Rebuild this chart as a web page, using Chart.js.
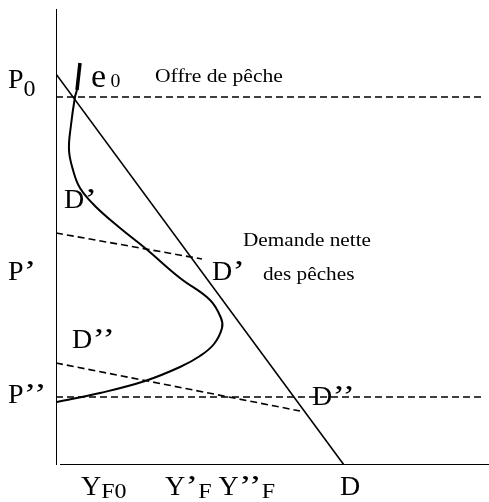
<!DOCTYPE html>
<html>
<head>
<meta charset="utf-8">
<script src="https://cdn.jsdelivr.net/npm/chart.js@4"></script>
<style>
  html, body { margin: 0; padding: 0; background: #fff; }
  canvas { display: block; }
</style>
</head>
<body>
<canvas id="chart" width="489" height="502"></canvas>
<script>
// data units: x = quantity, y = price (origin at the axes corner)
const axisVertical   = [{ x: 0, y: 456 }, { x: 0, y: 0 }]
const axisHorizontal = [{ x: 4, y: 0 }, { x: 433, y: 0 }]

// demande nette des pêches (straight line P0 -> D)
const demandLine = [{ x: 0, y: 391 }, { x: 288, y: 0 }]

// offre de pêche (backward-bending curve)
const supplyTopX = [24, 21]
const supplyTopY = [402, 375]
const supplyX = [21, 19, 15, 13, 17, 24, 39, 64, 89, 124, 154, 165, 166, 158, 144, 124, 89, 44, 1]
const supplyY = [375, 368, 340, 315, 295, 277, 259, 237, 217, 187, 165, 147, 137, 121, 109, 98, 84, 72, 63]

// dashed guides
const priceP0     = [{ x: 0, y: 368 }, { x: 429, y: 368 }]
const tiltedP1    = [{ x: 0, y: 232 }, { x: 146, y: 206 }]
const tiltedP2    = [{ x: 0, y: 102 }, { x: 244, y: 54 }]
const priceP2     = [{ x: 0, y: 68 }, { x: 429, y: 68 }]

const zip = (xs, ys) => xs.map((x, i) => ({ x, y: ys[i] }))

const solid = (data, width, tension = 0) => ({
  data, borderColor: "#000", borderWidth: width, pointRadius: 0,
  tension, fill: false, showLine: true,
})
const dashed = data => ({ ...solid(data, 1.6), borderDash: [7, 4] })

const FONT = "'Liberation Serif', 'Times New Roman', serif"

// text annotations: runs of [text, size, dy, horizontal stretch]
const TEXTS = [
  { px: 8,   py: 88,  runs: [["P", 28, 0], ["0", 24, 8]] },
  { px: 91,  py: 87,  runs: [["e", 34, 0], [" ", 18, 0], ["0", 18, 0, 1.1]] },
  { px: 155, py: 82,  runs: [["Offre de pêche", 18, 0, 1.2]] },
  { px: 64,  py: 208, runs: [["D", 28, 0], ["’", 30, 0, 1.3]] },
  { px: 243, py: 246, runs: [["Demande nette", 18, 0, 1.18]] },
  { px: 8,   py: 280, runs: [["P", 28, 0], ["’", 30, 0, 1.3]] },
  { px: 212, py: 280, runs: [["D", 28, 0], ["’", 30, 0, 1.3]] },
  { px: 263, py: 280, runs: [["des pêches", 18, 0, 1.18]] },
  { px: 72,  py: 348, runs: [["D", 28, 0], ["’’", 30, 0, 1.3]] },
  { px: 8,   py: 403, runs: [["P", 28, 0], ["’’", 30, 0, 1.3]] },
  { px: 312, py: 405, runs: [["D", 28, 0], ["’’", 30, 0, 1.3]] },
  { px: 81,  py: 495, runs: [["Y", 28, 0], ["F0", 20, 3, 1.2]] },
  { px: 165, py: 495, runs: [["Y", 28, 0], ["’", 30, 0, 1.3], ["F", 20, 3, 1.2], ["  ", 14, 0],
                             ["Y", 28, 0], ["’’", 30, 0, 1.3], ["F", 20, 3, 1.2]] },
  { px: 340, py: 495, runs: [["D", 28, 0]] },
]

const textPlugin = {
  id: "texts",
  afterDatasetsDraw(chart) {
    const ctx = chart.ctx
    ctx.save()
    ctx.fillStyle = "#000"
    ctx.textBaseline = "alphabetic"
    TEXTS.forEach(({ px, py, runs }) => {
      let x = px
      runs.forEach(([t, size, dy, sx = 1]) => {
        ctx.font = `${size}px ${FONT}`
        ctx.save()
        ctx.translate(x, py + dy)
        ctx.scale(sx, 1)
        ctx.fillText(t, 0, 0)
        ctx.restore()
        x += ctx.measureText(t).width * sx
      })
    })
    ctx.restore()
  },
}

new Chart(document.getElementById("chart"), {
  type: "scatter",
  data: {
    datasets: [
      solid(axisVertical, 2),
      solid(axisHorizontal, 2),
      solid(demandLine, 1.6),
      solid(zip(supplyTopX, supplyTopY), 3.5),
      solid(zip(supplyX, supplyY), 2, 0.4),
      dashed(priceP0),
      dashed(tiltedP1),
      dashed(tiltedP2),
      dashed(priceP2),
    ],
  },
  options: {
    responsive: false,
    animation: false,
    layout: { padding: { left: 56, right: 0, top: 0, bottom: 37 } },
    plugins: { legend: { display: false }, tooltip: { enabled: false } },
    scales: {
      x: { type: "linear", min: 0, max: 433, display: false },
      y: { type: "linear", min: 0, max: 465, display: false },
    },
  },
  plugins: [textPlugin],
})
</script>
</body>
</html>
